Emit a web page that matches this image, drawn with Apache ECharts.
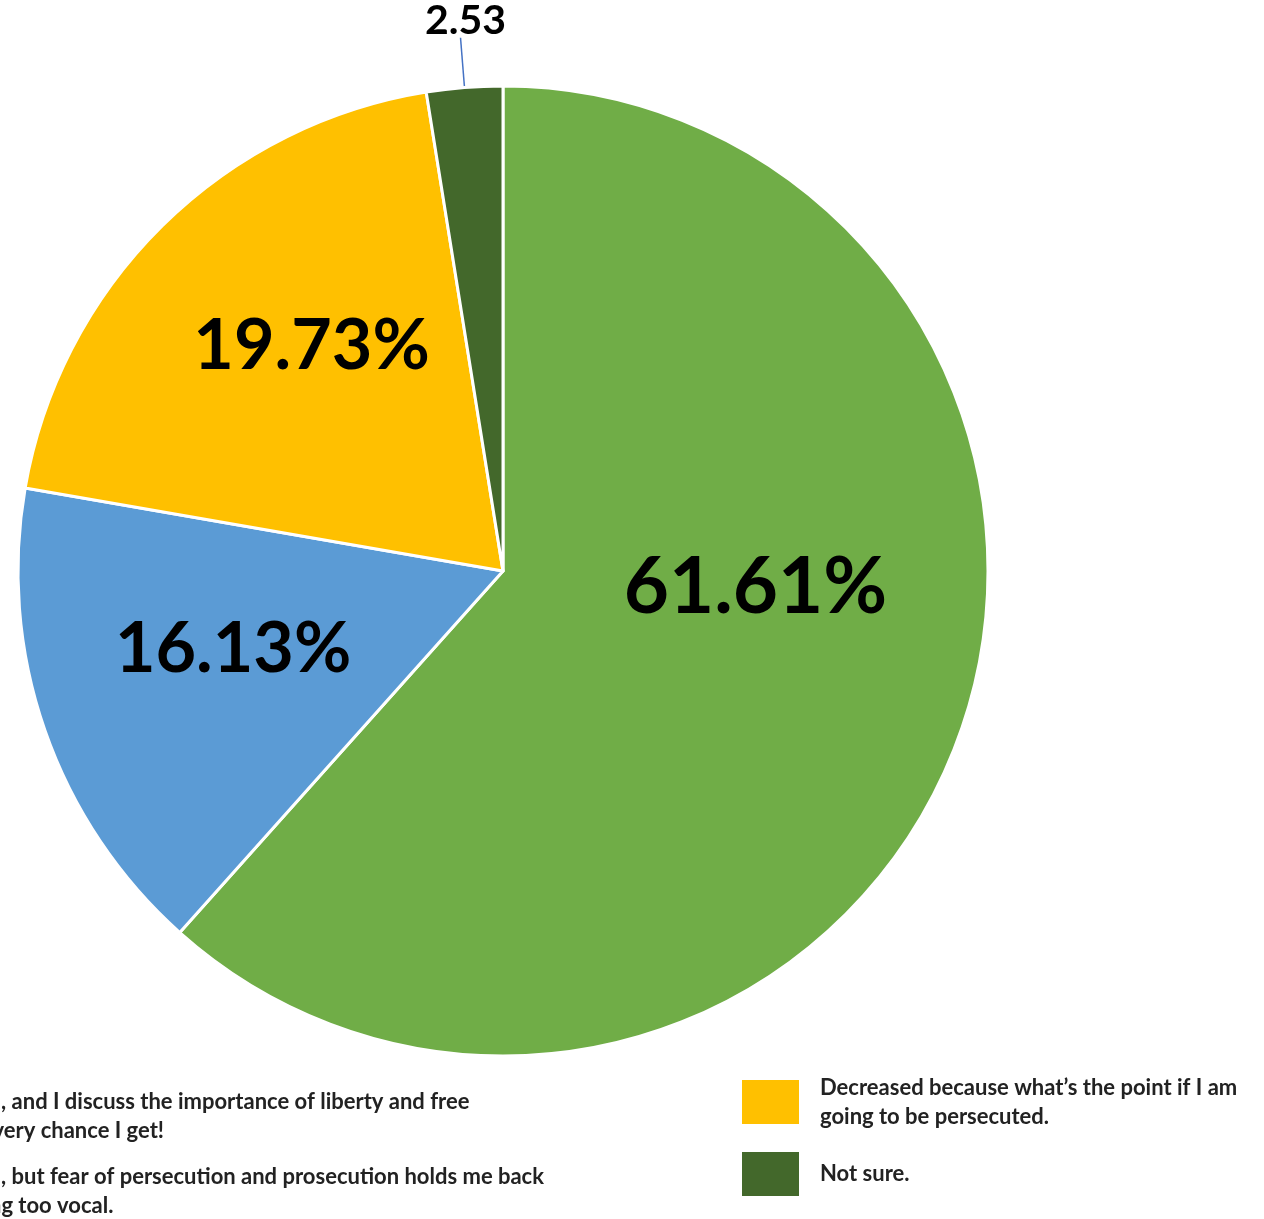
<!DOCTYPE html>
<html>
<head>
<meta charset="utf-8">
<script src="https://cdn.jsdelivr.net/npm/echarts@6/dist/echarts.min.js"></script>
<style>
  html, body { margin: 0; padding: 0; background: #fff; }
  #chart { width: 1264px; height: 1219px; }
</style>
</head>
<body>
<div id="chart"></div>
<script>
const categories = [
  'Increased, and I discuss the importance of liberty and free speech every chance I get!',
  'Increased, but fear of persecution and prosecution holds me back from being too vocal.',
  'Decreased because what\u2019s the point if I am going to be persecuted.',
  'Not sure.'
]
const values = [61.61, 16.13, 19.73, 2.53]
const colors = ['#70AD47', '#5B9BD5', '#FFC000', '#43682B']

// nudges for the in-slice labels so they sit where the original has them
const labelNudge = [[23, -71], [-38, -2], [-19, -50], [0, 0]]

const font = 'Lato'

const chart = echarts.init(document.getElementById('chart'))

const legendText = {
  fontFamily: font, fontWeight: 'bold', fontSize: 22, color: '#222',
  lineHeight: 29, overflow: 'break', padding: [0, 0, 0, 16]
}

chart.setOption({
  animation: false,
  legend: [
    {
      orient: 'vertical',
      left: -176,
      top: 1082,
      height: 400,
      itemWidth: 57,
      itemHeight: 44,
      itemGap: 17,
      icon: 'rect',
      itemStyle: { borderWidth: 0 },
      textStyle: legendText,
      data: [
        { name: categories[0], textStyle: { width: 575 } },
        { name: categories[1], textStyle: { width: 650 } }
      ]
    },
    {
      orient: 'vertical',
      left: 737,
      top: 1068,
      height: 400,
      itemWidth: 57,
      itemHeight: 44,
      itemGap: 21,
      icon: 'rect',
      itemStyle: { borderWidth: 0 },
      textStyle: legendText,
      data: [
        { name: categories[2], textStyle: { width: 445 } },
        { name: categories[3], textStyle: { width: 445 } }
      ]
    }
  ],
  series: [{
    type: 'pie',
    center: [503, 571],
    radius: 485,
    startAngle: 90,
    clockwise: true,
    avoidLabelOverlap: false,
    itemStyle: { borderColor: '#fff', borderWidth: 3 },
    label: {
      show: true,
      position: 'inside',
      formatter: '{c}%',
      fontFamily: font,
      fontWeight: 'bold',
      fontSize: 70,
      color: '#000'
    },
    labelLine: { lineStyle: { color: '#4472C4', width: 1.5 } },
    emphasis: { disabled: true },
    data: values.map((v, i) => {
      const d = { name: categories[i], value: v, itemStyle: { color: colors[i] } }
      if (i === 0) d.label = { fontSize: 78 }
      if (i === 3) {
        d.label = { position: 'outside', formatter: '{c}', fontSize: 41 }
        d.labelLine = { show: true, length: 50, length2: 0, smooth: false }
      }
      return d
    }),
    labelLayout: function (p) {
      if (p.dataIndex === 3) {
        // centre the small label above the end of its leader line
        return { dx: p.labelRect.width / 2 + 10, dy: -p.labelRect.height / 2 + 4 }
      }
      const n = labelNudge[p.dataIndex]
      return { dx: n[0], dy: n[1] }
    }
  }]
})
</script>
</body>
</html>
